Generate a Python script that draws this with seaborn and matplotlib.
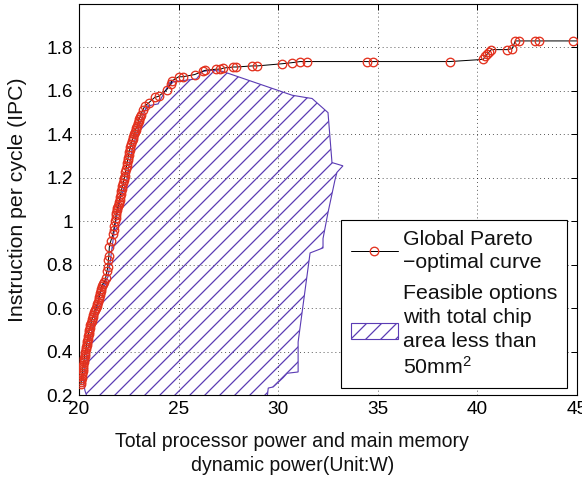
import numpy as np
import pandas as pd
import matplotlib
matplotlib.use("Agg")
import matplotlib.pyplot as plt
import seaborn as sns

# ---------------- data ----------------
pareto_power = [20.10, 20.11, 20.12, 20.13, 20.15, 20.16, 20.18, 20.19, 20.20, 20.22,
                20.24, 20.25, 20.27, 20.28, 20.30, 20.32, 20.34, 20.36, 20.38, 20.40,
                20.42, 20.44, 20.46, 20.48, 20.50, 20.52, 20.55, 20.57, 20.60, 20.63,
                20.66, 20.69, 20.72, 20.76, 20.80, 20.84, 20.88, 20.92, 20.95, 20.98,
                21.00, 21.03, 21.05, 21.08, 21.10, 21.14, 21.18, 21.28, 21.34, 21.40,
                21.45, 21.47, 21.50, 21.52, 21.60, 21.70, 21.74, 21.78,
                21.82, 21.84, 21.86, 21.88, 21.90, 21.93, 21.96, 21.99, 22.02, 22.04,
                22.06, 22.09, 22.12, 22.15, 22.18, 22.22, 22.25, 22.28, 22.30, 22.33,
                22.36, 22.39, 22.42, 22.44, 22.46, 22.49, 22.52, 22.55, 22.58, 22.62,
                22.66, 22.69, 22.72, 22.76, 22.80, 22.84, 22.88, 22.92, 22.96, 22.99,
                23.02, 23.06, 23.10, 23.20, 23.30, 23.50,
                23.80, 24.00, 24.40, 24.60, 24.65, 25.00, 25.20, 25.80, 26.20, 26.35,
                26.90, 27.10, 27.25, 27.75, 27.90, 28.70, 28.95, 30.20, 30.70, 31.10,
                31.45, 34.45, 34.75, 38.60, 40.30, 40.40, 40.50, 40.60, 40.70, 41.50,
                41.75, 41.90, 42.10, 42.90, 43.10, 44.80, 46.00]
pareto_ipc = [0.25, 0.26, 0.27, 0.28, 0.29, 0.30, 0.31, 0.32, 0.33, 0.34,
              0.35, 0.36, 0.37, 0.38, 0.39, 0.40, 0.41, 0.42, 0.43, 0.44,
              0.45, 0.46, 0.47, 0.48, 0.49, 0.50, 0.51, 0.52, 0.53, 0.54,
              0.55, 0.56, 0.57, 0.58, 0.59, 0.60, 0.61, 0.62, 0.63, 0.64,
              0.65, 0.66, 0.67, 0.68, 0.69, 0.70, 0.71, 0.72, 0.74, 0.77,
              0.79, 0.82, 0.84, 0.88, 0.91, 0.94, 0.96, 0.98,
              1.00, 1.015, 1.03, 1.04, 1.05, 1.06, 1.07, 1.08, 1.09, 1.10,
              1.11, 1.125, 1.14, 1.15, 1.16, 1.175, 1.19, 1.20, 1.21, 1.225,
              1.24, 1.255, 1.27, 1.28, 1.29, 1.305, 1.32, 1.33, 1.34, 1.355,
              1.37, 1.38, 1.39, 1.40, 1.41, 1.42, 1.43, 1.44, 1.45, 1.46,
              1.47, 1.48, 1.49, 1.51, 1.53, 1.545,
              1.57, 1.575, 1.605, 1.63, 1.645, 1.665, 1.665, 1.675, 1.69, 1.695,
              1.70, 1.70, 1.705, 1.71, 1.71, 1.715, 1.715, 1.725, 1.73, 1.735,
              1.735, 1.735, 1.735, 1.735, 1.745, 1.76, 1.77, 1.78, 1.79, 1.79,
              1.795, 1.83, 1.83, 1.83, 1.83, 1.83, 1.83]

region_power = [20.55, 20.30, 20.20, 20.40, 20.80, 21.00, 21.20, 21.46, 21.56, 21.80,
                22.06, 22.40, 22.46, 22.66, 23.06, 23.40, 23.97, 24.57, 24.97, 25.90,
                26.20, 26.70, 27.20, 30.70, 31.35, 31.70, 32.50, 32.70, 33.25, 32.95,
                32.85, 32.50, 32.25, 32.25, 31.60, 31.00, 31.00, 30.45, 30.25, 29.75,
                29.50, 29.40]
region_ipc = [0.15, 0.22, 0.27, 0.39, 0.56, 0.65, 0.70, 0.745, 0.81, 0.975,
              1.10, 1.19, 1.23, 1.33, 1.45, 1.53, 1.54, 1.64, 1.645, 1.655,
              1.69, 1.695, 1.69, 1.58, 1.57, 1.565, 1.50, 1.27, 1.255, 1.225,
              1.19, 1.04, 0.92, 0.877, 0.854, 0.444, 0.306, 0.30, 0.28, 0.237,
              0.232, 0.15]

x_ticks = [20, 25, 30, 35, 40, 45]
y_ticks = [0.2, 0.4, 0.6, 0.8, 1.0, 1.2, 1.4, 1.6, 1.8]
y_tick_labels = ["0.2", "0.4", "0.6", "0.8", "1", "1.2", "1.4", "1.6", "1.8"]

pareto_label = "Global Pareto\n\u2212optimal curve"
region_label = "Feasible options\nwith total chip\narea less than\n50mm$^{2}$"
x_label = "Total processor power and main memory\ndynamic power(Unit:W)"
y_label = "Instruction per cycle (IPC)"

RED = "#E3321F"
PURPLE = "#5B3CB4"

# ---------------- style ----------------
sns.set_style("white")
plt.rcParams["font.family"] = ["Liberation Sans", "DejaVu Sans"]
plt.rcParams["mathtext.fontset"] = "custom"
plt.rcParams["mathtext.rm"] = "Liberation Sans"
plt.rcParams["mathtext.it"] = "Liberation Sans:italic"
plt.rcParams["mathtext.bf"] = "Liberation Sans:bold"
plt.rcParams["hatch.linewidth"] = 1.0
plt.rcParams["hatch.color"] = PURPLE

DPI = 90
fig = plt.figure(figsize=(582 / DPI, 480 / DPI), dpi=DPI)
ax = fig.add_axes([79 / 582, 85 / 480, 498 / 582, 391 / 480])

region = ax.fill(region_power, region_ipc, facecolor="none", edgecolor=PURPLE,
                 hatch="//", linewidth=0.9, zorder=2)[0]

df = pd.DataFrame({"power": pareto_power, "ipc": pareto_ipc})
sns.lineplot(data=df, x="power", y="ipc", ax=ax, estimator=None, sort=False,
             color="black", linewidth=0.8, marker="o", markersize=6.8,
             markerfacecolor="none", markeredgecolor=RED, markeredgewidth=1.05,
             zorder=3, legend=False)
pareto_line = ax.get_lines()[-1]

ax.set_xlim(20, 45)
ax.set_ylim(0.2, 2.0)
ax.set_xticks(x_ticks)
ax.set_xticklabels([str(t) for t in x_ticks])
ax.set_yticks(y_ticks)
ax.set_yticklabels(y_tick_labels)

ax.grid(True, linestyle=(0, (1, 3.5)), color="black", linewidth=0.7, alpha=0.8)
ax.set_axisbelow(True)
for s in ax.spines.values():
    s.set_color("black")
    s.set_linewidth(0.9)
    s.set_visible(True)
ax.tick_params(direction="in", length=5, width=0.8, top=True, right=True,
               labelsize=15.2, colors="black", pad=5)

ax.set_xlabel(x_label, fontsize=15.6, color="#111111", linespacing=1.3)
ax.xaxis.set_label_coords(0.428, -0.095)
ax.set_ylabel(y_label, fontsize=17, color="#111111")
ax.yaxis.set_label_coords(-0.104, 0.5)

leg = ax.legend(handles=[pareto_line, region], labels=[pareto_label, region_label],
                loc="upper left", bbox_to_anchor=(341 / 582, 1 - 220 / 480),
                bbox_transform=fig.transFigure, frameon=True, fancybox=False,
                edgecolor="black", framealpha=1, borderpad=0.45,
                handlelength=2.24, handletextpad=0.25, labelspacing=0.55,
                fontsize=17, borderaxespad=0, handleheight=0.75)
leg.get_frame().set_linewidth(0.9)
for t in leg.get_texts():
    t.set_color("#111111")
    t.set_linespacing(1.32)

fig.savefig("out.png", dpi=DPI)
